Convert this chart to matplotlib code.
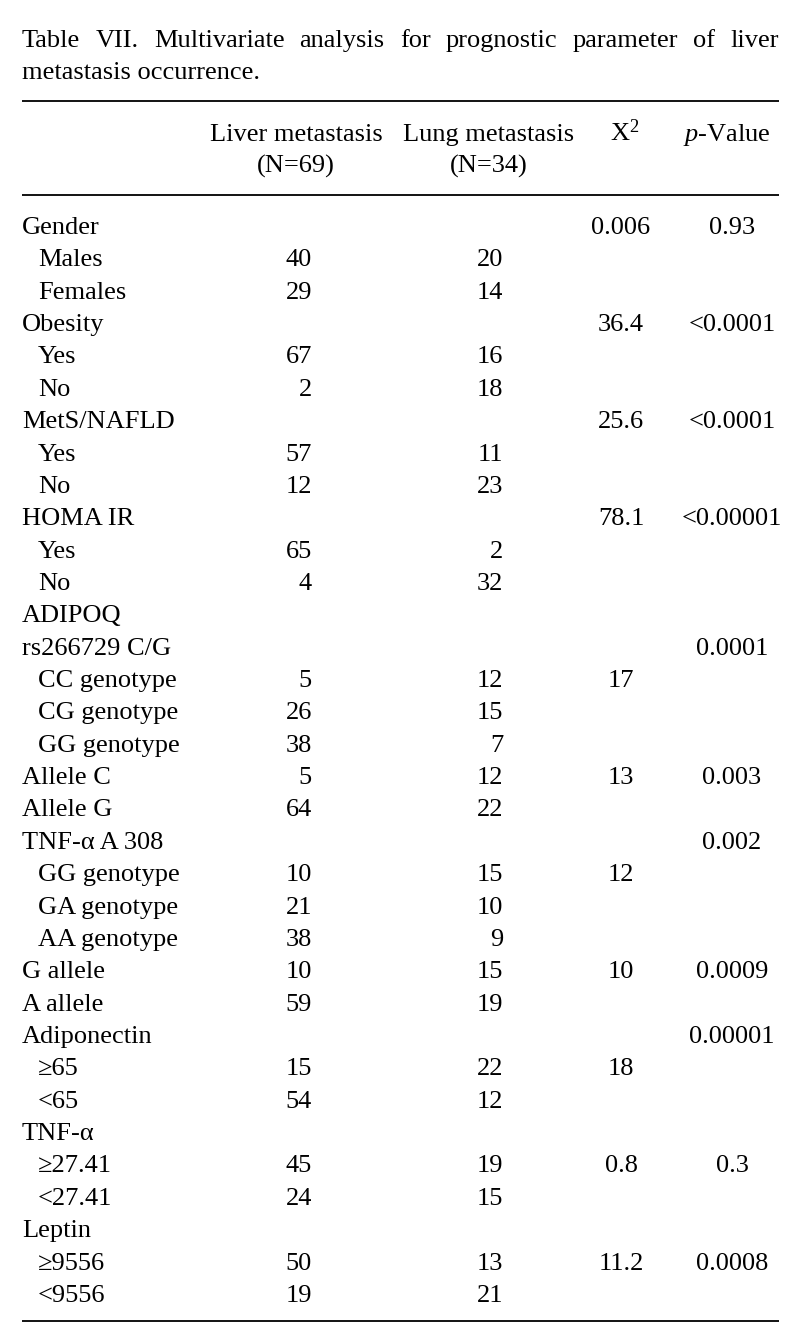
import matplotlib
matplotlib.use("Agg")
import matplotlib.pyplot as plt

plt.rcParams['font.family'] = ['Liberation Serif', 'DejaVu Serif']
plt.rcParams['mathtext.fontset'] = 'custom'
plt.rcParams['mathtext.rm'] = 'Liberation Serif'
plt.rcParams['mathtext.it'] = 'Liberation Serif:italic'

# table content
title_1 = "Table VII. Multivariate analysis for prognostic parameter of liver"
title_2 = "metastasis occurrence."

col_heads = [("Liver metastasis", "(N=69)"), ("Lung metastasis", "(N=34)"),
             ("X$^{2}$", ""), ("$p$-Value", "")]

labels = ["Gender", "Males", "Females",
          "Obesity", "Yes", "No",
          "MetS/NAFLD", "Yes", "No",
          "HOMA IR", "Yes", "No",
          "ADIPOQ", "rs266729 C/G", "CC genotype", "CG genotype", "GG genotype",
          "Allele C", "Allele G",
          "TNF-α A 308", "GG genotype", "GA genotype", "AA genotype",
          "G allele", "A allele",
          "Adiponectin", "≥65", "<65",
          "TNF-α", "≥27.41", "<27.41",
          "Leptin", "≥9556", "<9556"]
indent = [0, 1, 1,
          0, 1, 1,
          0, 1, 1,
          0, 1, 1,
          0, 0, 1, 1, 1,
          0, 0,
          0, 1, 1, 1,
          0, 0,
          0, 1, 1,
          0, 1, 1,
          0, 1, 1]
liver = ["", "40", "29",
         "", "67", "2",
         "", "57", "12",
         "", "65", "4",
         "", "", "5", "26", "38",
         "5", "64",
         "", "10", "21", "38",
         "10", "59",
         "", "15", "54",
         "", "45", "24",
         "", "50", "19"]
lung = ["", "20", "14",
        "", "16", "18",
        "", "11", "23",
        "", "2", "32",
        "", "", "12", "15", "7",
        "12", "22",
        "", "15", "10", "9",
        "15", "19",
        "", "22", "12",
        "", "19", "15",
        "", "13", "21"]
chi2 = ["0.006", "", "",
        "36.4", "", "",
        "25.6", "", "",
        "78.1", "", "",
        "", "", "17", "", "",
        "13", "",
        "", "12", "", "",
        "10", "",
        "", "18", "",
        "", "0.8", "",
        "", "11.2", ""]
pval = ["0.93", "", "",
        "<0.0001", "", "",
        "<0.0001", "", "",
        "<0.00001", "", "",
        "", "0.0001", "", "", "",
        "0.003", "",
        "0.002", "", "", "",
        "0.0009", "",
        "0.00001", "", "",
        "", "0.3", "",
        "", "0.0008", ""]

W, H = 799, 1344
FS = 19
fig = plt.figure(figsize=(W / 100, H / 100), dpi=100)
ax = fig.add_axes([0, 0, 1, 1])
ax.set_xlim(0, W)
ax.set_ylim(H, 0)
ax.axis("off")

left, right = 22, 779

# justified first title line
renderer = fig.canvas.get_renderer()
words = title_1.split(" ")
txts = [ax.text(0, 47, w, fontsize=FS, va="baseline") for w in words]
widths = [t.get_window_extent(renderer).width for t in txts]
gap = (right - left - sum(widths)) / (len(words) - 1)
x = left
for t, w in zip(txts, widths):
    t.set_x(x)
    x += w + gap
ax.text(left, 79, title_2, fontsize=FS, va="baseline")

# rules
for yy in (101, 195, 1321):
    ax.plot([left, right], [yy, yy], color="black", lw=1.3, solid_capstyle="butt")

# header
head_x = [296, 489, 625, 727]
for (h1, h2), hx in zip(col_heads, head_x):
    ax.text(hx, 141, h1, fontsize=FS, ha="center", va="baseline")
    if h2:
        ax.text(hx, 173, h2, fontsize=FS, ha="center", va="baseline")

# body
y0, dy = 234, 32.36
for i in range(len(labels)):
    y = y0 + i * dy
    ax.text(left + 16 * indent[i], y, labels[i], fontsize=FS, va="baseline")
    ax.text(312, y, liver[i], fontsize=FS, ha="right", va="baseline")
    ax.text(503, y, lung[i], fontsize=FS, ha="right", va="baseline")
    ax.text(621, y, chi2[i], fontsize=FS, ha="center", va="baseline")
    ax.text(732, y, pval[i], fontsize=FS, ha="center", va="baseline")

fig.savefig("out.png", dpi=100, facecolor="white")
